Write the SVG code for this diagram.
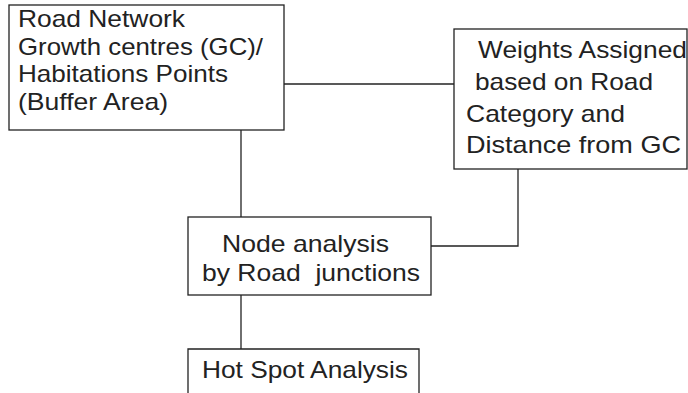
<svg xmlns="http://www.w3.org/2000/svg" width="688" height="393" viewBox="0 0 688 393">
<style>
.box{fill:#fff;stroke:#222;stroke-width:1.3}
.t{font-family:"Liberation Sans",Arial,sans-serif;font-size:24px;fill:#222;white-space:pre}
.c{fill:none;stroke:#222;stroke-width:1.3}
</style>
<rect width="688" height="393" fill="#fff"/>
<g id="connectors">
<path class="c" d="M284,84H454"/>
<path class="c" d="M241,130V217"/>
<path class="c" d="M518,169V246H431"/>
<path class="c" d="M241,295V349"/>
</g>
<g id="n1">
<rect class="box" x="9" y="5" width="275" height="125"/>
<text class="t" x="18" y="27" textLength="167" lengthAdjust="spacingAndGlyphs">Road Network</text>
<text class="t" x="18" y="55" textLength="245" lengthAdjust="spacingAndGlyphs">Growth centres (GC)/</text>
<text class="t" x="18" y="82" textLength="210" lengthAdjust="spacingAndGlyphs">Habitations Points</text>
<text class="t" x="18" y="110" textLength="150" lengthAdjust="spacingAndGlyphs">(Buffer Area)</text>
</g>
<g id="n2">
<rect class="box" x="454" y="29" width="233" height="140"/>
<text class="t" x="478" y="58" textLength="209" lengthAdjust="spacingAndGlyphs">Weights Assigned</text>
<text class="t" x="475" y="90" textLength="178" lengthAdjust="spacingAndGlyphs">based on Road</text>
<text class="t" x="466" y="122" textLength="159" lengthAdjust="spacingAndGlyphs">Category and</text>
<text class="t" x="466" y="153" textLength="215" lengthAdjust="spacingAndGlyphs">Distance from GC</text>
</g>
<g id="n3">
<rect class="box" x="188" y="217" width="243" height="78"/>
<text class="t" x="222" y="252" textLength="167" lengthAdjust="spacingAndGlyphs">Node analysis</text>
<text class="t" x="202" y="281" textLength="218" lengthAdjust="spacingAndGlyphs" xml:space="preserve">by Road  junctions</text>
</g>
<g id="n4">
<path class="box" d="M188,400V349H419V400"/>
<text class="t" x="202" y="378" textLength="206" lengthAdjust="spacingAndGlyphs">Hot Spot Analysis</text>
</g>
</svg>
